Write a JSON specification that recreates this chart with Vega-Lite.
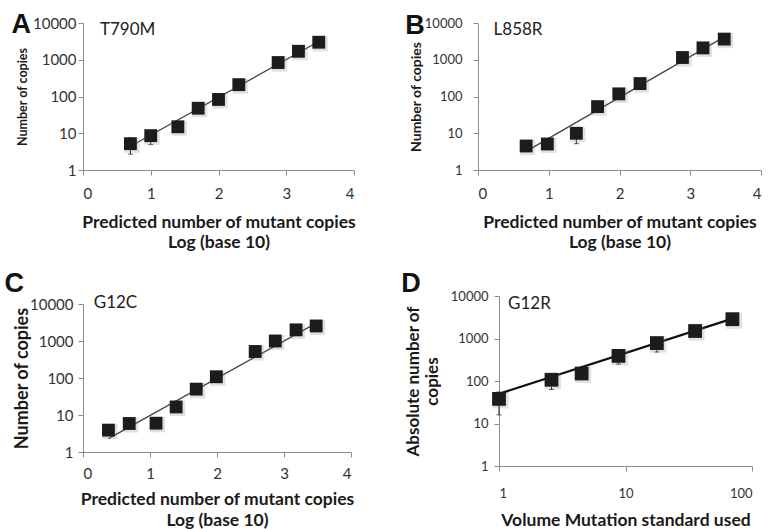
{
  "$schema": "https://vega.github.io/schema/vega-lite/v6.json",
  "background": "white",
  "padding": {"left": 4, "top": 11, "right": 0, "bottom": 0},
  "config": {
    "font": "Lato",
    "view": {"stroke": null},
    "axis": {"grid": false, "domainColor": "#8c8c8c", "tickColor": "#8c8c8c", "tickSize": 5, "labelColor": "#333333", "labelFontSize": 15, "labelPadding": 2, "titleFontWeight": "bold", "titleColor": "#1a1a1a", "titleFontSize": 17.5},
    "title": {"font": "Liberation Sans", "fontSize": 27, "fontWeight": "bold", "color": "#111111", "anchor": "start", "frame": "bounds", "offset": 0, "baseline": "top"}
  },
  "vconcat": [
    {
      "hconcat": [
        {
          "width": 271, "height": 147,
          "title": {"text": "A", "dx": -5, "dy": 27},
          "encoding": {
            "x": {"field": "x", "type": "quantitative", "scale": {"domain": [0, 4], "nice": false}, "axis": {"values": [0, 1, 2, 3, 4], "title": ["Predicted number of mutant copies", "Log (base 10)"], "titlePadding": 12, "labelPadding": 11, "titleLineHeight": 20}},
            "y": {"field": "y", "type": "quantitative", "scale": {"type": "log", "domain": [1, 10000], "nice": false}, "axis": {"values": [1, 10, 100, 1000, 10000], "format": "d", "title": "Number of copies", "titleFontSize": 12.5, "titlePadding": 3, "labelFontSize": 15, "labelPadding": 2}}
          },
          "layer": [
            {"data": {"values": [{"x": 0.65, "y": 3.9}, {"x": 3.5, "y": 3300}]}, "mark": {"type": "line", "color": "#444444", "strokeWidth": 1.3}},
            {"data": {"values": [{"x": 0.7, "lo": 2.7, "hi": 7.5}, {"x": 1.0, "lo": 4.9, "hi": 11}]}, "mark": {"type": "errorbar", "ticks": true, "color": "#222222"}, "encoding": {"y": {"field": "lo", "type": "quantitative"}, "y2": {"field": "hi"}}},
            {"data": {"values": [{"x": 0.7, "y": 5.2}, {"x": 1.0, "y": 8.6}, {"x": 1.4, "y": 15}, {"x": 1.7, "y": 48}, {"x": 2.0, "y": 83}, {"x": 2.3, "y": 210}, {"x": 2.88, "y": 840}, {"x": 3.18, "y": 1700}, {"x": 3.48, "y": 3000}]}, "mark": {"type": "square", "size": 230, "color": "#888888", "opacity": 0.25, "xOffset": 1.5, "yOffset": 1.5}},
            {"data": {"values": [{"x": 0.7, "y": 5.2}, {"x": 1.0, "y": 8.6}, {"x": 1.4, "y": 15}, {"x": 1.7, "y": 48}, {"x": 2.0, "y": 83}, {"x": 2.3, "y": 210}, {"x": 2.88, "y": 840}, {"x": 3.18, "y": 1700}, {"x": 3.48, "y": 3000}]}, "mark": {"type": "square", "size": 165, "color": "#1c1c1c", "opacity": 1}},
            {"data": {"values": [{"x": 0.25, "y": 6400, "label": "T790M"}]}, "mark": {"type": "text", "align": "left", "baseline": "middle", "fontSize": 17, "color": "#222222"}, "encoding": {"text": {"field": "label"}}}
          ]
        },
        {
          "width": 283, "height": 147,
          "title": {"text": "B", "dx": -4, "dy": 27},
          "encoding": {
            "x": {"field": "x", "type": "quantitative", "scale": {"domain": [0, 4], "nice": false}, "axis": {"values": [0, 1, 2, 3, 4], "title": ["Predicted number of mutant copies", "Log (base 10)"], "titlePadding": 12, "labelPadding": 11, "titleLineHeight": 20}},
            "y": {"field": "y", "type": "quantitative", "scale": {"type": "log", "domain": [1, 10000], "nice": false}, "axis": {"values": [1, 10, 100, 1000, 10000], "format": "d", "title": "Number of copies", "titleFontSize": 14, "titlePadding": 1, "labelFontSize": 13, "labelPadding": 11}}
          },
          "layer": [
            {"data": {"values": [{"x": 0.68, "y": 3.2}, {"x": 3.5, "y": 4400}]}, "mark": {"type": "line", "color": "#444444", "strokeWidth": 1.3}},
            {"data": {"values": [{"x": 0.68, "lo": 3.7, "hi": 5.5}, {"x": 1.39, "lo": 5.2, "hi": 14}]}, "mark": {"type": "errorbar", "ticks": true, "color": "#222222"}, "encoding": {"y": {"field": "lo", "type": "quantitative"}, "y2": {"field": "hi"}}},
            {"data": {"values": [{"x": 0.68, "y": 4.5}, {"x": 0.98, "y": 5.1}, {"x": 1.39, "y": 10}, {"x": 1.69, "y": 53}, {"x": 1.99, "y": 118}, {"x": 2.29, "y": 225}, {"x": 2.89, "y": 1150}, {"x": 3.18, "y": 2100}, {"x": 3.48, "y": 3650}]}, "mark": {"type": "square", "size": 230, "color": "#888888", "opacity": 0.25, "xOffset": 1.5, "yOffset": 1.5}},
            {"data": {"values": [{"x": 0.68, "y": 4.5}, {"x": 0.98, "y": 5.1}, {"x": 1.39, "y": 10}, {"x": 1.69, "y": 53}, {"x": 1.99, "y": 118}, {"x": 2.29, "y": 225}, {"x": 2.89, "y": 1150}, {"x": 3.18, "y": 2100}, {"x": 3.48, "y": 3650}]}, "mark": {"type": "square", "size": 165, "color": "#1c1c1c", "opacity": 1}},
            {"data": {"values": [{"x": 0.22, "y": 6400, "label": "L858R"}]}, "mark": {"type": "text", "align": "left", "baseline": "middle", "fontSize": 17, "color": "#222222"}, "encoding": {"text": {"field": "label"}}}
          ]
        }
      ],
      "spacing": 49
    },
    {
      "hconcat": [
        {
          "width": 268, "height": 156,
          "title": {"text": "C", "dx": -9, "dy": 8},
          "encoding": {
            "x": {"field": "x", "type": "quantitative", "scale": {"domain": [0, 4], "nice": false}, "axis": {"values": [0, 1, 2, 3, 4], "title": ["Predicted number of mutant copies", "Log (base 10)"], "titlePadding": 9, "labelPadding": 9, "titleLineHeight": 21}},
            "y": {"field": "y", "type": "quantitative", "scale": {"type": "log", "domain": [1, 10000], "nice": false, "range": [156, 8]}, "axis": {"values": [1, 10, 100, 1000, 10000], "format": "d", "title": "Number of copies", "titleFontSize": 18, "titlePadding": -2, "labelPadding": 5}}
          },
          "layer": [
            {"data": {"values": [{"x": 0.38, "y": 2.3}, {"x": 3.5, "y": 3200}]}, "mark": {"type": "line", "color": "#444444", "strokeWidth": 1.3}},
            {"data": {"values": [{"x": 0.38, "y": 3.9}, {"x": 0.69, "y": 5.9}, {"x": 1.09, "y": 6.0}, {"x": 1.39, "y": 16.5}, {"x": 1.69, "y": 50}, {"x": 1.99, "y": 108}, {"x": 2.57, "y": 520}, {"x": 2.87, "y": 1000}, {"x": 3.18, "y": 2000}, {"x": 3.48, "y": 2550}]}, "mark": {"type": "square", "size": 230, "color": "#888888", "opacity": 0.25, "xOffset": 1.5, "yOffset": 1.5}},
            {"data": {"values": [{"x": 0.38, "y": 3.9}, {"x": 0.69, "y": 5.9}, {"x": 1.09, "y": 6.0}, {"x": 1.39, "y": 16.5}, {"x": 1.69, "y": 50}, {"x": 1.99, "y": 108}, {"x": 2.57, "y": 520}, {"x": 2.87, "y": 1000}, {"x": 3.18, "y": 2000}, {"x": 3.48, "y": 2550}]}, "mark": {"type": "square", "size": 165, "color": "#1c1c1c", "opacity": 1}},
            {"data": {"values": [{"x": 0.16, "y": 10500, "label": "G12C"}]}, "mark": {"type": "text", "align": "left", "baseline": "middle", "fontSize": 17, "color": "#222222"}, "encoding": {"text": {"field": "label"}}}
          ]
        },
        {
          "width": 253, "height": 170,
          "title": {"text": "D", "dx": -3, "dy": 8, "offset": 0},
          "encoding": {
            "x": {"field": "x", "type": "quantitative", "scale": {"type": "log", "domain": [1, 100], "nice": false}, "axis": {"values": [1, 10, 100], "format": "d", "title": "Volume Mutation standard used", "titlePadding": 11, "labelPadding": 16, "labelFontSize": 13}},
            "y": {"field": "y", "type": "quantitative", "scale": {"type": "log", "domain": [1, 10000], "nice": false}, "axis": {"values": [1, 10, 100, 1000, 10000], "format": "d", "title": ["Absolute number of", "copies"], "titleFontSize": 17, "titlePadding": 9, "labelFontSize": 13, "labelPadding": 6}}
          },
          "layer": [
            {"data": {"values": [{"x": 1, "y": 50}, {"x": 70, "y": 2950}]}, "mark": {"type": "line", "color": "#111111", "strokeWidth": 2.3}},
            {"data": {"values": [{"x": 1, "lo": 16, "hi": 55}, {"x": 2.6, "lo": 63, "hi": 125}, {"x": 4.5, "lo": 122, "hi": 175}, {"x": 8.8, "lo": 250, "hi": 470}, {"x": 17.7, "lo": 480, "hi": 950}, {"x": 35.5, "lo": 1350, "hi": 1700}, {"x": 70, "lo": 2600, "hi": 3100}]}, "mark": {"type": "errorbar", "ticks": true, "color": "#222222"}, "encoding": {"y": {"field": "lo", "type": "quantitative"}, "y2": {"field": "hi"}}},
            {"data": {"values": [{"x": 1, "y": 38}, {"x": 2.6, "y": 107}, {"x": 4.5, "y": 150}, {"x": 8.8, "y": 390}, {"x": 17.7, "y": 780}, {"x": 35.5, "y": 1500}, {"x": 70, "y": 2850}]}, "mark": {"type": "square", "size": 260, "color": "#888888", "opacity": 0.25, "xOffset": 1.5, "yOffset": 1.5}},
            {"data": {"values": [{"x": 1, "y": 38}, {"x": 2.6, "y": 107}, {"x": 4.5, "y": 150}, {"x": 8.8, "y": 390}, {"x": 17.7, "y": 780}, {"x": 35.5, "y": 1500}, {"x": 70, "y": 2850}]}, "mark": {"type": "square", "size": 190, "color": "#1c1c1c", "opacity": 1}},
            {"data": {"values": [{"x": 1.18, "y": 6500, "label": "G12R"}]}, "mark": {"type": "text", "align": "left", "baseline": "middle", "fontSize": 17, "color": "#222222"}, "encoding": {"text": {"field": "label"}}}
          ]
        }
      ],
      "spacing": 46
    }
  ],
  "spacing": 19
}
